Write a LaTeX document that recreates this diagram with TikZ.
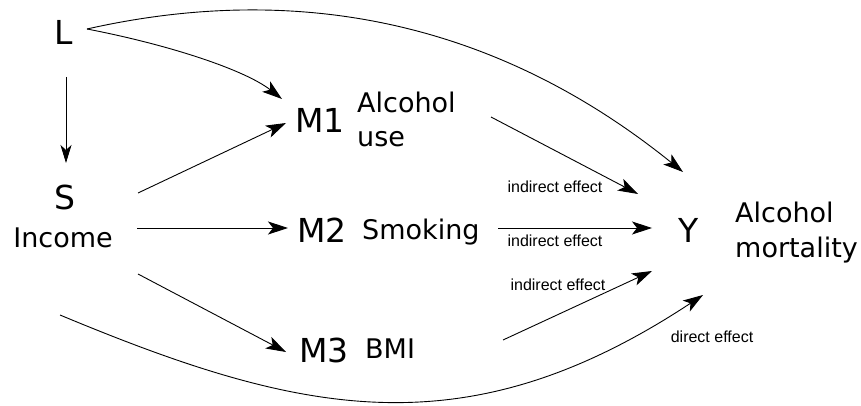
\documentclass[tikz,border=0pt]{standalone}
\usepackage{fontspec}
\setmainfont{DejaVu Sans}
\newfontfamily\labfont{Liberation Sans}
\usetikzlibrary{arrows.meta}
\begin{document}
\begin{tikzpicture}[x=1pt,y=-1pt,
  big/.style={font=\fontsize{33}{33}\selectfont, inner sep=0pt, anchor=base},
  desc/.style={font=\fontsize{27}{34}\selectfont, inner sep=0pt, anchor=base west, align=left},
  eff/.style={font=\labfont\fontsize{16}{16}\selectfont, inner sep=0pt},
  conn/.style={line width=0.9pt, -{Stealth[length=20pt,width=13pt,inset=5pt]}},
]
\useasboundingbox[fill=white] (0,0) rectangle (861,406);

\node[big] (L) at (64,45) {L};
\node[big] (S) at (65,209) {S};
\node[desc, anchor=base] (Inc) at (63,247) {Income};
\node[big] (M1) at (320,133) {M1};
\node[desc] (A1) at (357,147) {Alcohol\\use};
\node[big] (M2) at (322,242) {M2};
\node[desc] (Smk) at (362,239) {Smoking};
\node[big] (M3) at (324,362) {M3};
\node[desc] (BMI) at (365,358) {BMI};
\node[big] (Y) at (689,242) {Y};
\node[desc, font=\fontsize{27}{35}\selectfont] (YL) at (735,257) {Alcohol\\mortality};

\node[eff] (e1) at (555,187) {indirect effect};
\node[eff] (e2) at (555,241) {indirect effect};
\node[eff] (e3) at (558,285) {indirect effect};
\node[eff] (e4) at (712,337) {direct effect};

% L -> Y
\draw[conn] ([shift={(23,-16)}]L.base) .. controls (260,-10) and (470,0) .. ([shift={(-6,-70)}]Y.base);
% L -> M1
\draw[conn] ([shift={(23,-16)}]L.base) .. controls (170,45) and (245,70) .. ([shift={(-38,-34)}]M1.base);
% L -> S
\draw[line width=0.8pt, -{Stealth[length=18pt,width=11pt,inset=5pt]}] ([shift={(2,32)}]L.base) -- ([shift={(1,-46)}]S.base);
% S -> M1, M2, M3
\draw[conn] ([shift={(73,-16)}]S.base) -- ([shift={(-34,-10)}]M1.base);
\draw[conn] ([shift={(74,-19)}]Inc.base) -- ([shift={(-34,-14)}]M2.base);
\draw[conn] ([shift={(75,27)}]Inc.base) -- ([shift={(-38,-10)}]M3.base);
% mediators -> Y
\draw[conn] ([shift={(134,-30)}]A1.base west) -- ([shift={(-51,-48)}]Y.base);
\draw[conn] ([shift={(136,-11)}]Smk.base west) -- ([shift={(-37,-14)}]Y.base);
\draw[conn] ([shift={(138,-18)}]BMI.base west) -- ([shift={(-37,29)}]Y.base);
% direct effect
\draw[conn] ([shift={(-3,68)}]Inc.base) .. controls (300,415) and (465,452) .. ([shift={(14,53)}]Y.base);
\end{tikzpicture}
\end{document}
